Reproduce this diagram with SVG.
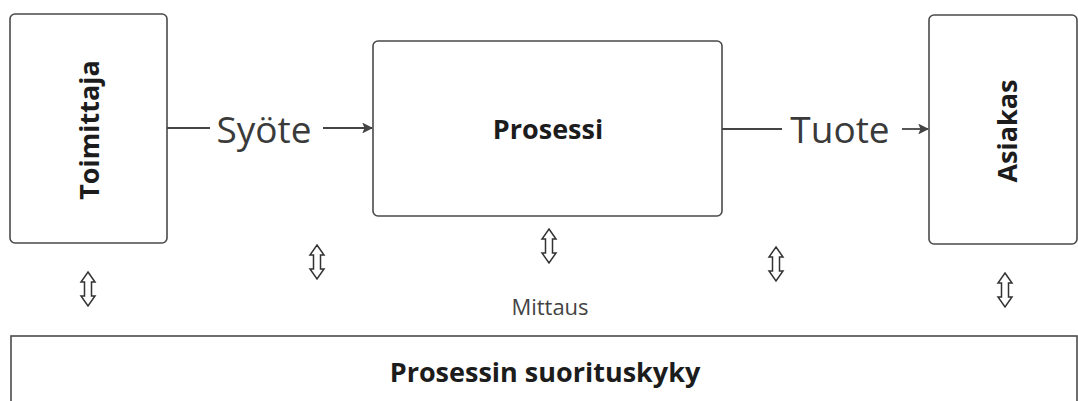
<svg xmlns="http://www.w3.org/2000/svg" width="1078" height="401" viewBox="0 0 1078 401">
  <style>
    .box { fill: #ffffff; stroke: #4a4a4a; stroke-width: 1.6; }
    .title { font-family: "Open Sans", "Noto Sans", "Liberation Sans", sans-serif; font-weight: 700; fill: #1c1c1c; text-anchor: middle; }
    .flow { font-family: "Open Sans", "Noto Sans", "Liberation Sans", sans-serif; font-weight: 400; fill: #3a3a3a; font-size: 37px; text-anchor: middle; }
    .note { font-family: "Open Sans", "Noto Sans", "Liberation Sans", sans-serif; font-weight: 400; fill: #444444; font-size: 22px; text-anchor: middle; }
    .link { fill: none; stroke: #444444; stroke-width: 1.8; }
    .updown { fill: #ffffff; stroke: #333333; stroke-width: 1.5; stroke-linejoin: miter; }
  </style>
  <defs>
    <marker id="head" viewBox="0 0 10 10" refX="9" refY="5" markerWidth="6" markerHeight="6" orient="auto" markerUnits="strokeWidth">
      <path d="M0,0 L10,5 L0,10 L2,5 Z" fill="#444444"/>
    </marker>
    <path id="measure" class="updown" d="M0,-17 L7,-7 L3.5,-7 L3.5,7 L7,7 L0,17 L-7,7 L-3.5,7 L-3.5,-7 L-7,-7 Z"/>
  </defs>

  <rect width="1078" height="401" fill="#ffffff"/>

  <g id="toimittaja">
    <rect class="box" x="10" y="14" width="157" height="229" rx="5"/>
    <text class="title" font-size="27" transform="translate(99,130) rotate(-90)">Toimittaja</text>
  </g>

  <g id="prosessi">
    <rect class="box" x="373" y="41" width="349" height="175" rx="5"/>
    <text class="title" font-size="27" x="548" y="139">Prosessi</text>
  </g>

  <g id="asiakas">
    <rect class="box" x="929" y="15" width="148" height="229" rx="5"/>
    <text class="title" font-size="27" transform="translate(1017,131) rotate(-90)">Asiakas</text>
  </g>

  <g id="suorituskyky">
    <rect class="box" x="11" y="336" width="1066" height="80"/>
    <text class="title" font-size="27" x="545" y="382">Prosessin suorituskyky</text>
  </g>

  <g id="connectors">
    <line class="link" x1="167" y1="128" x2="210" y2="128"/>
    <text class="flow" x="264" y="143">Syöte</text>
    <line class="link" x1="323" y1="128" x2="372" y2="128" marker-end="url(#head)"/>

    <line class="link" x1="722" y1="129" x2="782" y2="129"/>
    <text class="flow" x="840" y="143">Tuote</text>
    <line class="link" x1="902" y1="129" x2="928" y2="129" marker-end="url(#head)"/>
  </g>

  <g id="mittaus">
    <use href="#measure" x="88" y="289"/>
    <use href="#measure" x="317" y="262"/>
    <use href="#measure" x="549" y="246"/>
    <use href="#measure" x="776" y="264"/>
    <use href="#measure" x="1005" y="290"/>
    <text class="note" x="550" y="315">Mittaus</text>
  </g>
</svg>
